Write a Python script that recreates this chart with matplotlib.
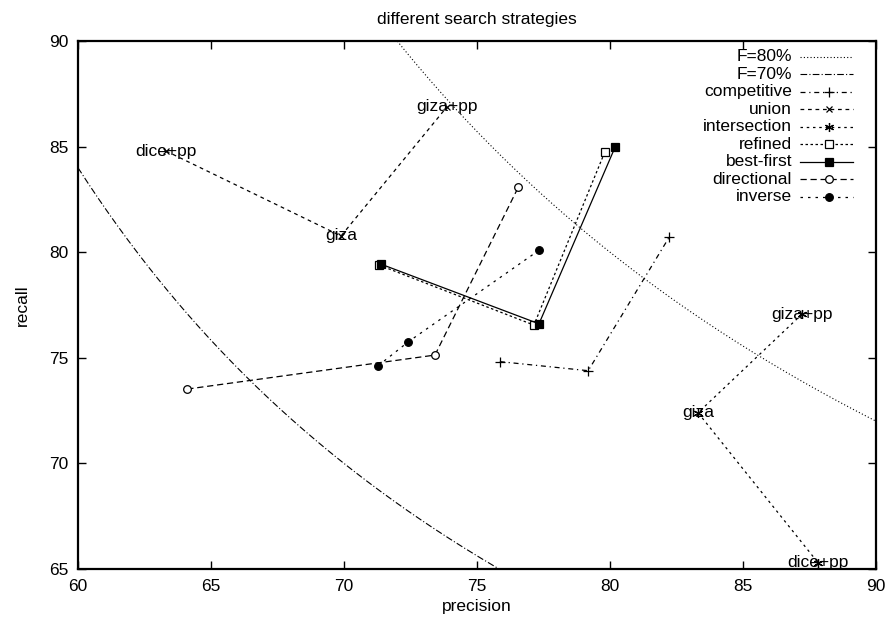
import numpy as np
from matplotlib import pyplot as plt
from matplotlib.lines import Line2D

plt.rcParams['font.family'] = ['Liberation Sans', 'DejaVu Sans']

# data (precision, recall)
f_levels = [80, 70]

comp_p = [75.86, 79.18, 82.22]
comp_r = [74.82, 74.39, 80.70]

point_labels = ['dice+pp', 'giza', 'giza+pp']
union_p = [63.31, 69.89, 73.87]
union_r = [84.79, 80.77, 86.88]

inter_labels = ['giza+pp', 'giza', 'dice+pp']
inter_p = [87.22, 83.31, 87.82]
inter_r = [77.07, 72.40, 65.30]

refined_p = [71.32, 77.14, 79.81]
refined_r = [79.39, 76.55, 84.76]

best_p = [71.38, 77.33, 80.19]
best_r = [79.44, 76.61, 84.97]

direc_p = [64.11, 73.42, 76.55]
direc_r = [73.52, 75.13, 83.07]

inv_p = [71.29, 72.42, 77.34]
inv_r = [74.63, 75.76, 80.10]

fig = plt.figure(figsize=(8.88, 6.24), dpi=100)
ax = fig.add_axes([0.0878, 0.0881, 0.8987, 0.8462])

fs = 12.5
lw = 0.9

# F-measure isolines: R = F*P / (2P - F)
p = np.linspace(60, 90, 400)
f_styles = [(0, (1, 2)), (0, (6, 2, 1, 2))]
series = []
for f, ls in zip(f_levels, f_styles):
    r = f * p / (2 * p - f)
    ax.plot(p, r, color='black', lw=0.8, ls=ls)
    series.append(('F=%d%%' % f, dict(ls=ls, marker=None, lw=0.8)))

styles = [
    ('competitive', comp_p, comp_r, dict(ls=(0, (4, 3, 1, 3)), marker='+', ms=7, mfc='none')),
    ('union', union_p, union_r, dict(ls=(0, (3, 3)), marker='x', ms=5, mfc='none')),
    ('intersection', inter_p, inter_r, dict(ls=(0, (2, 3)), marker=(6, 2, 0), ms=6.5, mfc='none')),
    ('refined', refined_p, refined_r, dict(ls=(0, (2, 2)), marker='s', ms=5.5, mfc='white')),
    ('best-first', best_p, best_r, dict(ls='-', marker='s', ms=5.5, mfc='black')),
    ('directional', direc_p, direc_r, dict(ls=(0, (5, 3)), marker='o', ms=5.5, mfc='white')),
    ('inverse', inv_p, inv_r, dict(ls=(0, (2, 4)), marker='o', ms=5.5, mfc='black')),
]
for name, xs, ys, st in styles:
    ax.plot(xs, ys, color='black', lw=lw, mec='black', mew=0.9, **st)
    series.append((name, dict(st, lw=lw)))

for lab, x, y in zip(point_labels, union_p, union_r):
    ax.text(x, y, lab, ha='center', va='center', fontsize=fs)
for lab, x, y in zip(inter_labels, inter_p, inter_r):
    ax.text(x, y, lab, ha='center', va='center', fontsize=fs)

# gnuplot-style key: text right-aligned, sample on the right
y0, dy = 0.9697, 0.0331
for i, (name, st) in enumerate(series):
    yy = y0 - i * dy
    ax.text(0.8947, yy, name, transform=ax.transAxes, ha='right', va='center', fontsize=fs)
    st = dict(st)
    mk = st.pop('marker', None)
    ms = st.pop('ms', 6)
    mfc = st.pop('mfc', 'none')
    ls = st.pop('ls')
    lwk = st.pop('lw', lw)
    ax.add_line(Line2D([0.9048, 0.9712], [yy, yy], transform=ax.transAxes,
                       color='black', lw=lwk, ls=ls))
    if mk is not None:
        ax.add_line(Line2D([0.941], [yy], transform=ax.transAxes, marker=mk, ms=ms,
                           mfc=mfc, mec='black', mew=0.9, ls='none'))

ax.set_xlim(60, 90)
ax.set_ylim(65, 90)
ax.set_xticks(range(60, 91, 5))
ax.set_yticks(range(65, 91, 5))
ax.tick_params(direction='in', length=6, width=1, top=True, right=True,
               labelsize=fs, pad=7)
for s in ax.spines.values():
    s.set_linewidth(1.6)

ax.set_xlabel('precision', fontsize=fs, labelpad=4)
ax.set_ylabel('recall', fontsize=fs, labelpad=14)
ax.set_title('different search strategies', fontsize=fs, pad=12)

fig.savefig('out.png', dpi=100)
